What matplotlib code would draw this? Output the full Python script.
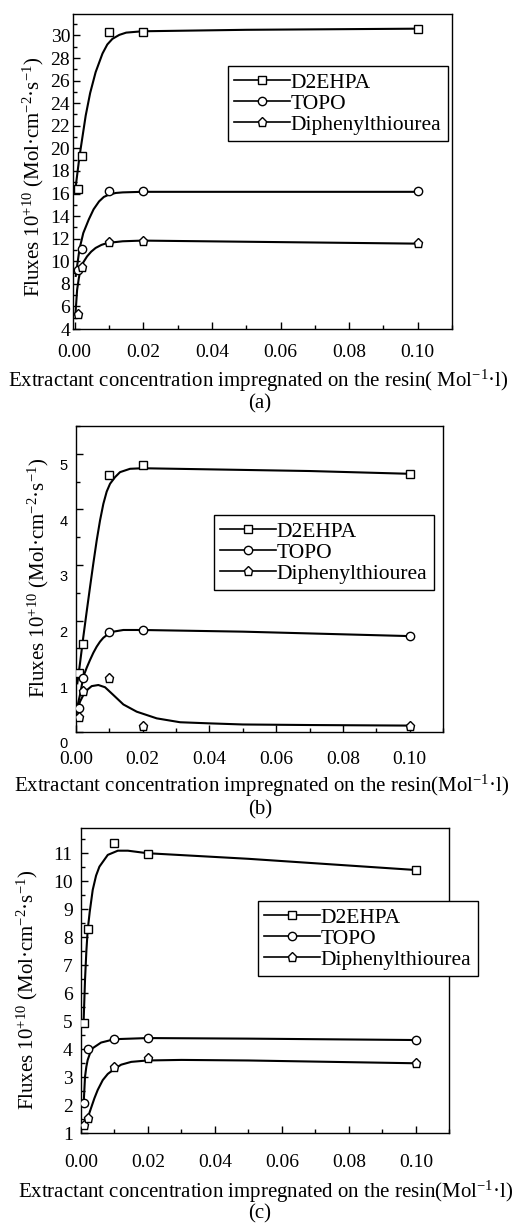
import numpy as np
import matplotlib
matplotlib.use("Agg")
import matplotlib.pyplot as plt
from matplotlib.ticker import MultipleLocator, FormatStrFormatter
from matplotlib.transforms import ScaledTranslation

plt.rcParams["font.family"] = ["Liberation Serif", "DejaVu Serif"]
plt.rcParams["mathtext.fontset"] = "custom"
plt.rcParams["mathtext.rm"] = "Liberation Serif"
plt.rcParams["mathtext.it"] = "Liberation Serif:italic"

# ---- measured points (same concentrations in every panel) ----
conc = [0.001, 0.002, 0.01, 0.02, 0.1]
series_names = ["D2EHPA", "TOPO", "Diphenylthiourea"]

a_d2ehpa = [16.4, 19.3, 30.3, 30.3, 30.6]
a_topo = [9.2, 11.1, 16.2, 16.2, 16.2]
a_dpt = [5.3, 9.5, 11.7, 11.8, 11.6]

b_d2ehpa = [1.05, 1.57, 4.61, 4.79, 4.64]
b_topo = [0.43, 0.96, 1.80, 1.83, 1.72]
b_dpt = [0.26, 0.74, 0.97, 0.11, 0.11]

c_d2ehpa = [4.95, 8.3, 11.38, 10.98, 10.4]
c_topo = [2.07, 4.01, 4.36, 4.40, 4.33]
c_dpt = [1.3, 1.54, 3.38, 3.7, 3.5]

# ---- fitted curves ----
a_d2ehpa_fx = [0.0002, 0.0014, 0.0032, 0.0045, 0.0061, 0.0081, 0.0095, 0.011, 0.013, 0.015, 0.0197, 0.05, 0.1]
a_d2ehpa_fy = [16.4, 19.3, 22.9, 24.9, 26.75, 28.4, 29.2, 29.7, 30.05, 30.25, 30.37, 30.5, 30.6]
a_topo_fx = [0.0003, 0.0014, 0.0025, 0.0041, 0.0055, 0.0071, 0.0085, 0.01, 0.012, 0.014, 0.0197, 0.1]
a_topo_fy = [8.7, 11.1, 12.5, 13.7, 14.6, 15.3, 15.7, 15.9, 16.05, 16.1, 16.15, 16.15]
a_dpt_fx = [0.0002, 0.0007, 0.0012, 0.0017, 0.0025, 0.0036, 0.0048, 0.0061, 0.0078, 0.0095, 0.014, 0.0197, 0.1]
a_dpt_fy = [5.25, 7.47, 8.5, 9.25, 9.9, 10.43, 10.85, 11.18, 11.45, 11.62, 11.77, 11.83, 11.56]

b_d2ehpa_fx = [0.0004, 0.0012, 0.0022, 0.0032, 0.0042, 0.0052, 0.0062, 0.0072, 0.0082, 0.0092, 0.0102, 0.0117, 0.0132, 0.0162, 0.0199, 0.04, 0.07, 0.1]
b_d2ehpa_fy = [0.87, 1.23, 1.71, 2.16, 2.60, 3.03, 3.44, 3.80, 4.10, 4.32, 4.46, 4.58, 4.67, 4.73, 4.74, 4.72, 4.69, 4.64]
b_topo_fx = [0.0004, 0.0013, 0.0022, 0.0032, 0.0042, 0.0052, 0.0062, 0.0072, 0.0082, 0.0097, 0.0112, 0.0142, 0.0199, 0.05, 0.1]
b_topo_fy = [0.45, 0.69, 0.99, 1.15, 1.29, 1.42, 1.53, 1.62, 1.69, 1.76, 1.80, 1.83, 1.83, 1.80, 1.72]
b_dpt_fx = [0.0002, 0.0012, 0.0027, 0.0047, 0.0067, 0.0087, 0.0112, 0.0142, 0.0182, 0.0242, 0.0312, 0.04, 0.05, 0.07, 0.1]
b_dpt_fy = [0.33, 0.54, 0.72, 0.82, 0.84, 0.80, 0.66, 0.49, 0.36, 0.24, 0.17, 0.15, 0.13, 0.12, 0.11]

c_d2ehpa_fx = [0.0008, 0.0012, 0.0016, 0.002, 0.0026, 0.0035, 0.0045, 0.0055, 0.008, 0.011, 0.014, 0.0198, 0.05, 0.1]
c_d2ehpa_fy = [5.05, 6.48, 7.5, 8.26, 8.9, 9.69, 10.2, 10.52, 10.94, 11.09, 11.09, 11.0, 10.8, 10.4]
c_topo_fx = [0.0008, 0.0012, 0.0016, 0.002, 0.0027, 0.0035, 0.006, 0.01, 0.0198, 0.05, 0.1]
c_topo_fy = [2.07, 3.02, 3.38, 3.62, 3.86, 4.04, 4.24, 4.36, 4.40, 4.38, 4.33]
c_dpt_fx = [0.0008, 0.002, 0.003, 0.004, 0.005, 0.0065, 0.008, 0.01, 0.012, 0.015, 0.0198, 0.03, 0.05, 0.1]
c_dpt_fy = [1.3, 1.55, 1.9, 2.25, 2.55, 2.9, 3.12, 3.3, 3.45, 3.55, 3.6, 3.62, 3.6, 3.5]

markers = ["s", "o", "p"]
msizes = [5.5, 6.0, 6.5]

W, H = 512, 1223
fig = plt.figure(figsize=(W / 100, H / 100), dpi=100)


def box(l, t, r, b):
    return [l / W, 1 - b / H, (r - l) / W, (b - t) / H]


def panel(rect, pts, fits, xlim, ylim, ymaj, ymin, leg_xy, xpad):
    ax = fig.add_axes(box(*rect))
    for i in range(3):
        fx, fy = fits[i]
        ax.plot(fx, fy, color="black", lw=1.5, zorder=2)
        ax.plot(conc, pts[i], linestyle="none", marker=markers[i], ms=msizes[i],
                mfc="white", mec="black", mew=1.0, zorder=3)
        ax.plot([], [], color="black", lw=1.2, marker=markers[i], ms=msizes[i],
                mfc="white", mec="black", mew=1.0, label=series_names[i])
    ax.set_xlim(*xlim)
    ax.set_ylim(*ylim)
    ax.xaxis.set_major_locator(MultipleLocator(0.02))
    ax.xaxis.set_minor_locator(MultipleLocator(0.01))
    ax.yaxis.set_major_locator(MultipleLocator(ymaj))
    ax.yaxis.set_minor_locator(MultipleLocator(ymin))
    ax.xaxis.set_major_formatter(FormatStrFormatter("%.2f"))
    ax.tick_params(which="both", direction="in", top=False, right=False, width=1.0)
    ax.tick_params(which="major", length=5)
    ax.tick_params(which="minor", length=3)
    ax.tick_params(axis="x", labelsize=14, pad=xpad)
    for sp in ax.spines.values():
        sp.set_linewidth(1.0)
    ax.legend(loc="upper left", bbox_to_anchor=(leg_xy[0] / W, 1 - leg_xy[1] / H),
              bbox_transform=fig.transFigure, borderaxespad=0, fontsize=15.5,
              frameon=True, fancybox=False, framealpha=1, edgecolor="black",
              handlelength=2.6, handletextpad=0.0, labelspacing=0.05,
              borderpad=0.3)
    ax.get_legend().get_frame().set_linewidth(1.0)
    return ax


axa = panel((73, 14, 452, 329),
            [a_d2ehpa, a_topo, a_dpt],
            [(a_d2ehpa_fx, a_d2ehpa_fy), (a_topo_fx, a_topo_fy), (a_dpt_fx, a_dpt_fy)],
            (-0.0005, 0.11), (4, 31.9), 2, 1, (228, 66), 11)
axa.tick_params(axis="y", labelsize=14, pad=2)

axb = panel((76, 426, 443, 731.7),
            [b_d2ehpa, b_topo, b_dpt],
            [(b_d2ehpa_fx, b_d2ehpa_fy), (b_topo_fx, b_topo_fy), (b_dpt_fx, b_dpt_fy)],
            (0, 0.11), (0, 5.5), 1, 0.5, (214, 515), 14)
axb.tick_params(axis="y", labelsize=10.5, pad=6)
axb.yaxis.set_major_formatter(FormatStrFormatter("%d"))
# the y labels of this panel sit below their tick marks
shift = ScaledTranslation(0, -0.11, fig.dpi_scale_trans)
for lab in axb.get_yticklabels():
    lab.set_family(["Liberation Sans", "DejaVu Sans"])
    lab.set_transform(lab.get_transform() + shift)

axc = panel((81, 828, 449.3, 1133.3),
            [c_d2ehpa, c_topo, c_dpt],
            [(c_d2ehpa_fx, c_d2ehpa_fy), (c_topo_fx, c_topo_fy), (c_dpt_fx, c_dpt_fy)],
            (0, 0.11), (1, 11.9), 1, 0.5, (258, 901), 15)
axc.tick_params(axis="y", labelsize=14, pad=6)

ylab = "Fluxes 10$^{\\mathrm{+10}}$ (Mol·cm$^{\\mathrm{-2}}$·s$^{\\mathrm{-1}}$)"
for (x, y) in [(33, 177), (38, 578), (27, 990)]:
    fig.text(x / W, 1 - y / H, ylab, rotation=90, ha="center", va="center", fontsize=15)

xlabs = ["Extractant concentration impregnated on the resin( Mol$^{\\mathrm{-1}}$·l)",
         "Extractant concentration impregnated on the resin(Mol$^{\\mathrm{-1}}$·l)",
         "Extractant concentration impregnated on the resin(Mol$^{\\mathrm{-1}}$·l)"]
xl_pos = [(258, 381), (262, 786), (266, 1192)]
tags = ["(a)", "(b)", "(c)"]
tag_y = [404, 810, 1214]
for i in range(3):
    fig.text(xl_pos[i][0] / W, 1 - xl_pos[i][1] / H, xlabs[i], ha="center", va="center", fontsize=15)
    fig.text(260 / W, 1 - tag_y[i] / H, tags[i], ha="center", va="center", fontsize=15)

fig.savefig("out.png", dpi=100)
